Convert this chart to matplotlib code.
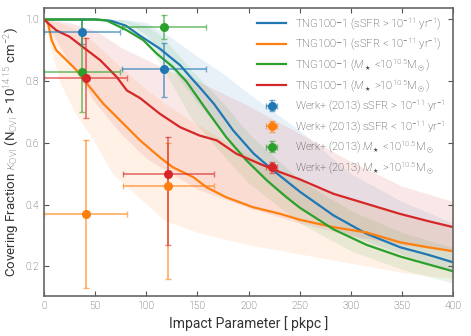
import numpy as np
import matplotlib
matplotlib.use('Agg')
import matplotlib.pyplot as plt
from matplotlib.colors import to_rgba

# TNG100-1 median covering fraction profiles
r_blue = [0, 50, 65, 80, 94, 113, 133, 143, 153, 166, 185, 205, 224, 250, 283, 315, 348, 375, 400]
f_blue = [1.0, 1.0, 0.996, 0.98, 0.947, 0.906, 0.852, 0.814, 0.777, 0.727, 0.64, 0.565, 0.511,
          0.442, 0.365, 0.306, 0.262, 0.238, 0.213]

r_orange = [0, 2, 4, 7.5, 12, 22, 32, 45, 58, 71, 81, 94, 113, 126, 146, 159, 178, 204, 231,
            250, 283, 315, 348, 375, 400]
f_orange = [1.0, 1.0, 0.987, 0.933, 0.90, 0.868, 0.835, 0.78, 0.727, 0.684, 0.651, 0.608, 0.554,
            0.521, 0.489, 0.456, 0.424, 0.392, 0.37, 0.351, 0.327, 0.31, 0.278, 0.262, 0.249]

r_green = [0, 25, 50, 61, 81, 97, 110, 126, 139, 159, 178, 198, 218, 237, 250, 283, 315, 348, 375, 400]
f_green = [1.0, 1.0, 1.0, 0.997, 0.965, 0.933, 0.89, 0.846, 0.80, 0.706, 0.619, 0.543, 0.478,
           0.424, 0.39, 0.32, 0.27, 0.232, 0.207, 0.184]

r_red = [0, 2.6, 12, 25, 38, 55, 71, 81, 94, 113, 133, 152, 169, 188, 211, 231, 250, 283, 315,
         348, 375, 400]
f_red = [1.0, 0.992, 0.965, 0.944, 0.911, 0.868, 0.814, 0.77, 0.745, 0.695, 0.651, 0.624, 0.608,
         0.565, 0.532, 0.505, 0.482, 0.435, 0.403, 0.37, 0.347, 0.327]

# scatter bands (lower / upper)
rb_blue = [0, 60, 80, 100, 125, 150, 175, 200, 225, 250, 275, 300, 350, 400]
lo_blue = [1.0, 1.0, 0.99, 0.95, 0.84, 0.73, 0.63, 0.53, 0.45, 0.39, 0.34, 0.30, 0.24, 0.18]
hi_blue = [1.0, 1.0, 1.0, 0.99, 0.94, 0.88, 0.825, 0.76, 0.70, 0.64, 0.57, 0.50, 0.41, 0.34]

rb_orange = [0, 5, 15, 30, 48, 67, 94, 117, 150, 200, 250, 300, 350, 400]
lo_orange = [0.98, 0.93, 0.80, 0.70, 0.61, 0.50, 0.42, 0.35, 0.31, 0.27, 0.24, 0.21, 0.18, 0.16]
hi_orange = [1.0, 1.0, 0.99, 0.97, 0.93, 0.87, 0.79, 0.73, 0.66, 0.56, 0.48, 0.42, 0.37, 0.33]

rb_green = [0, 55, 75, 100, 113, 125, 143, 175, 200, 250, 300, 350, 400]
lo_green = [1.0, 1.0, 0.99, 0.93, 0.86, 0.79, 0.684, 0.56, 0.47, 0.34, 0.25, 0.19, 0.145]
hi_green = [1.0, 1.0, 1.0, 0.98, 0.95, 0.91, 0.84, 0.73, 0.63, 0.48, 0.38, 0.31, 0.26]

rb_red = [0, 25, 50, 75, 100, 125, 150, 175, 200, 250, 300, 350, 400]
lo_red = [1.0, 0.86, 0.73, 0.63, 0.55, 0.50, 0.45, 0.42, 0.39, 0.34, 0.30, 0.27, 0.25]
hi_red = [1.0, 0.99, 0.965, 0.91, 0.87, 0.83, 0.80, 0.76, 0.72, 0.63, 0.54, 0.46, 0.41]

# Werk+ (2013) observations
w_blue_x = [37, 117];  w_blue_y = [0.96, 0.84]
w_blue_xlo = [0, 76];  w_blue_xhi = [74, 158]
w_blue_ylo = [0.92, 0.75];  w_blue_yhi = [1.0, 0.925]

w_orange_x = [41, 121];  w_orange_y = [0.37, 0.46]
w_orange_xlo = [0, 77];  w_orange_xhi = [81, 166]
w_orange_ylo = [0.13, 0.16];  w_orange_yhi = [0.61, 0.60]

w_green_x = [37, 117];  w_green_y = [0.83, 0.976]
w_green_xlo = [0, 76];  w_green_xhi = [74, 158]
w_green_ylo = [0.70, 0.936];  w_green_yhi = [1.0, 1.016]

w_red_x = [41, 121];  w_red_y = [0.81, 0.50]
w_red_xlo = [0, 77];  w_red_xhi = [81, 166]
w_red_ylo = [0.68, 0.27];  w_red_yhi = [0.94, 0.62]

labels_tng = [r'TNG100$-$1 (sSFR > 10$^{-11}$ yr$^{-1}$)',
              r'TNG100$-$1 (sSFR < 10$^{-11}$ yr$^{-1}$)',
              r'TNG100$-$1 ($M_\star$ <10$^{10.5}$M$_\odot$)',
              r'TNG100$-$1 ($M_\star$ >10$^{10.5}$M$_\odot$)']
labels_werk = [r'Werk+ (2013) sSFR > 10$^{-11}$ yr$^{-1}$',
               r'Werk+ (2013) sSFR < 10$^{-11}$ yr$^{-1}$',
               r'Werk+ (2013) $M_\star$ <10$^{10.5}$M$_\odot$',
               r'Werk+ (2013) $M_\star$ >10$^{10.5}$M$_\odot$']

colors = ['#1f77b4', '#ff7f0e', '#2ca02c', '#d62728']

plt.rcParams['font.family'] = ['Roboto', 'DejaVu Sans']
plt.rcParams['font.weight'] = 'light'
plt.rcParams['mathtext.fontset'] = 'custom'
plt.rcParams['mathtext.rm'] = 'Roboto:light'
plt.rcParams['mathtext.it'] = 'Roboto:italic:light'

fig = plt.figure(figsize=(4.71, 3.36), dpi=100)
ax = fig.add_axes([0.0934, 0.12, 0.8690, 0.856])

bands = [(rb_blue, lo_blue, hi_blue), (rb_orange, lo_orange, hi_orange),
         (rb_green, lo_green, hi_green), (rb_red, lo_red, hi_red)]
for (rb, lo, hi), c in zip(bands, colors):
    ax.fill_between(rb, lo, hi, color=c, alpha=0.1, lw=0)

curves = [(r_blue, f_blue), (r_orange, f_orange), (r_green, f_green), (r_red, f_red)]
for (r, f), c, lab in zip(curves, colors, labels_tng):
    ax.plot(r, f, color=c, lw=1.6, label=lab)

werk = [(w_blue_x, w_blue_y, w_blue_xlo, w_blue_xhi, w_blue_ylo, w_blue_yhi),
        (w_orange_x, w_orange_y, w_orange_xlo, w_orange_xhi, w_orange_ylo, w_orange_yhi),
        (w_green_x, w_green_y, w_green_xlo, w_green_xhi, w_green_ylo, w_green_yhi),
        (w_red_x, w_red_y, w_red_xlo, w_red_xhi, w_red_ylo, w_red_yhi)]
for (x, y, xlo, xhi, ylo, yhi), c, lab in zip(werk, colors, labels_werk):
    x = np.array(x); y = np.array(y)
    xerr = [x - np.array(xlo), np.array(xhi) - x]
    yerr = [y - np.array(ylo), np.array(yhi) - y]
    ax.errorbar(x, y, xerr=xerr, yerr=yerr, fmt='o', color=c, ms=5.5,
                ecolor=to_rgba(c, 0.6), elinewidth=1.3, capsize=2, capthick=1.0, label=lab)

ax.set_xlim(0, 400)
ax.set_ylim(0.105, 1.037)
ax.set_xticks([0, 50, 100, 150, 200, 250, 300, 350, 400])
ax.set_yticks([0.2, 0.4, 0.6, 0.8, 1.0])
ax.tick_params(direction='in', top=True, right=True, labelsize=7.5,
               colors='#555555', labelcolor='#444444', length=3.5)
for s in ax.spines.values():
    s.set_color('#666666')
    s.set_linewidth(1.2)

ax.set_xlabel('Impact Parameter [ pkpc ]', fontsize=10, color='#333333')
ax.set_ylabel(r'Covering Fraction $\kappa_{\rm OVI}$ (N$_{\rm OVI}$ > 10$^{14.15}$ cm$^{-2}$)',
              fontsize=9.5, color='#333333', labelpad=3)

ax.legend(loc='upper right', frameon=False, fontsize=8, handlelength=2.6,
          labelspacing=0.42, borderaxespad=0.3, handletextpad=0.8, labelcolor='#333333')

fig.savefig('out.png', dpi=100)
